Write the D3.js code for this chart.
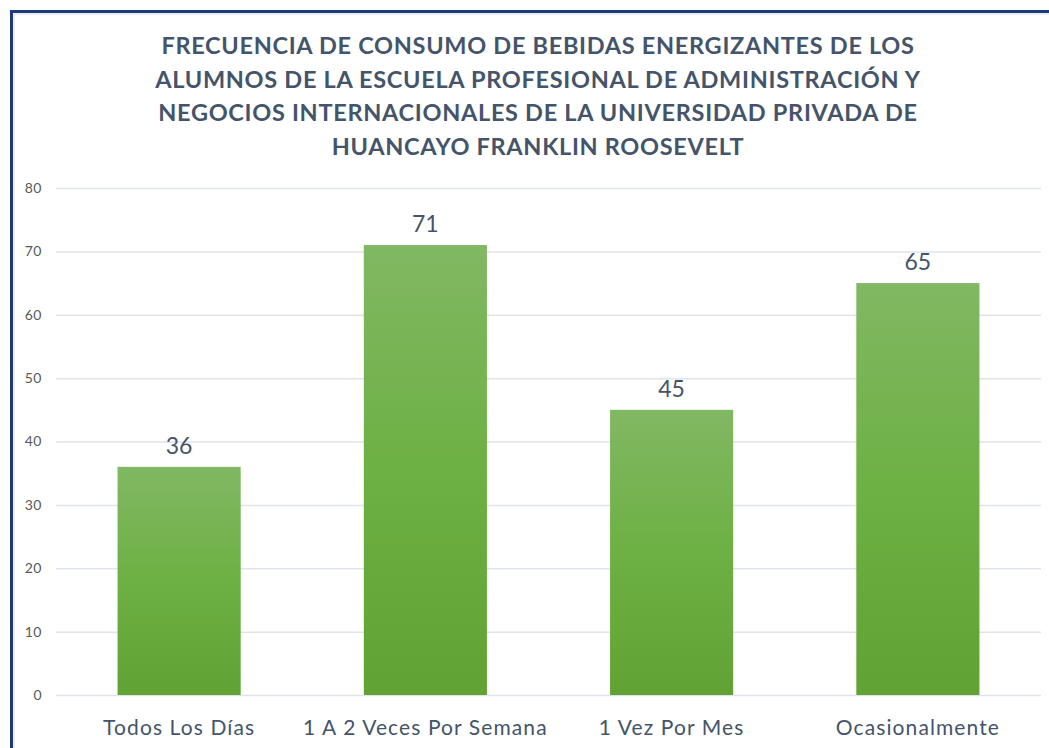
<!DOCTYPE html>
<html>
<head>
<meta charset="utf-8">
<script src="https://cdn.jsdelivr.net/npm/d3@7"></script>
<style>
  body { margin: 0; background: #fff; }
  svg { display: block; }
</style>
</head>
<body>
<svg id="chart"></svg>
<script>
// data
const categories = ["Todos Los Días", "1 A 2 Veces Por Semana", "1 Vez Por Mes", "Ocasionalmente"];
const values = [36, 71, 45, 65];
const yTicks = [0, 10, 20, 30, 40, 50, 60, 70, 80];
const titleLines = [
  "FRECUENCIA DE CONSUMO DE BEBIDAS ENERGIZANTES DE LOS",
  "ALUMNOS DE LA ESCUELA PROFESIONAL DE ADMINISTRACIÓN Y",
  "NEGOCIOS INTERNACIONALES DE LA UNIVERSIDAD PRIVADA DE",
  "HUANCAYO FRANKLIN ROOSEVELT"
];

const width = 1049, height = 748;
const margin = { left: 56, right: 8, top: 188, bottom: 53 };
const font = "Lato, 'Open Sans', sans-serif";

const svg = d3.select("#chart")
  .attr("width", width)
  .attr("height", height)
  .attr("font-family", font);

// chart frame (runs off the right and bottom edges)
svg.append("rect")
  .attr("x", 11.5).attr("y", 11.5)
  .attr("width", 1080).attr("height", 800)
  .attr("fill", "#fff")
  .attr("stroke", "#1f3a78")
  .attr("stroke-width", 3);
svg.append("rect")
  .attr("x", 14).attr("y", 14)
  .attr("width", 1080).attr("height", 800)
  .attr("fill", "none")
  .attr("stroke", "#d6dbe4")
  .attr("stroke-width", 1);

// title
svg.append("g")
  .selectAll("text")
  .data(titleLines)
  .join("text")
  .attr("x", 538)
  .attr("y", (d, i) => 54 + i * 33.6)
  .attr("text-anchor", "middle")
  .attr("font-size", 23.5)
  .attr("letter-spacing", 0.7)
  .attr("font-weight", "bold")
  .attr("fill", "#44546a")
  .text(d => d);

const x = d3.scaleBand()
  .domain(categories)
  .range([margin.left, width - margin.right])
  .paddingInner(0.5)
  .paddingOuter(0.25);

const y = d3.scaleLinear()
  .domain([0, 80])
  .range([height - margin.bottom, margin.top]);

// gridlines
svg.append("g")
  .selectAll("line")
  .data(yTicks)
  .join("line")
  .attr("x1", margin.left)
  .attr("x2", width - margin.right)
  .attr("y1", d => y(d) + 0.5)
  .attr("y2", d => y(d) + 0.5)
  .attr("stroke", "#dfe3eb")
  .attr("stroke-width", 1.5);

// y axis labels
svg.append("g")
  .selectAll("text")
  .data(yTicks)
  .join("text")
  .attr("x", 42)
  .attr("y", d => y(d))
  .attr("dy", "0.35em")
  .attr("text-anchor", "end")
  .attr("font-size", 14)
  .attr("letter-spacing", 0.5)
  .attr("fill", "#595959")
  .text(d => d);

// gradient for bars
const grad = svg.append("defs").append("linearGradient")
  .attr("id", "barGrad")
  .attr("x1", 0).attr("y1", 0).attr("x2", 0).attr("y2", 1);
grad.append("stop").attr("offset", "0%").attr("stop-color", "#81b863");
grad.append("stop").attr("offset", "50%").attr("stop-color", "#6db043");
grad.append("stop").attr("offset", "100%").attr("stop-color", "#62a234");

// bars
svg.append("g")
  .selectAll("rect")
  .data(values)
  .join("rect")
  .attr("x", (d, i) => x(categories[i]))
  .attr("y", d => y(d))
  .attr("width", x.bandwidth())
  .attr("height", d => y(0) - y(d))
  .attr("fill", "url(#barGrad)");

// value labels
svg.append("g")
  .selectAll("text")
  .data(values)
  .join("text")
  .attr("x", (d, i) => x(categories[i]) + x.bandwidth() / 2)
  .attr("y", d => y(d) - 13)
  .attr("text-anchor", "middle")
  .attr("font-size", 23)
  .attr("fill", "#44546a")
  .text(d => d);

// category labels
svg.append("g")
  .selectAll("text")
  .data(categories)
  .join("text")
  .attr("x", d => x(d) + x.bandwidth() / 2)
  .attr("y", 735)
  .attr("text-anchor", "middle")
  .attr("font-size", 21)
  .attr("letter-spacing", 1.1)
  .attr("fill", "#44546a")
  .text(d => d);
</script>
</body>
</html>
